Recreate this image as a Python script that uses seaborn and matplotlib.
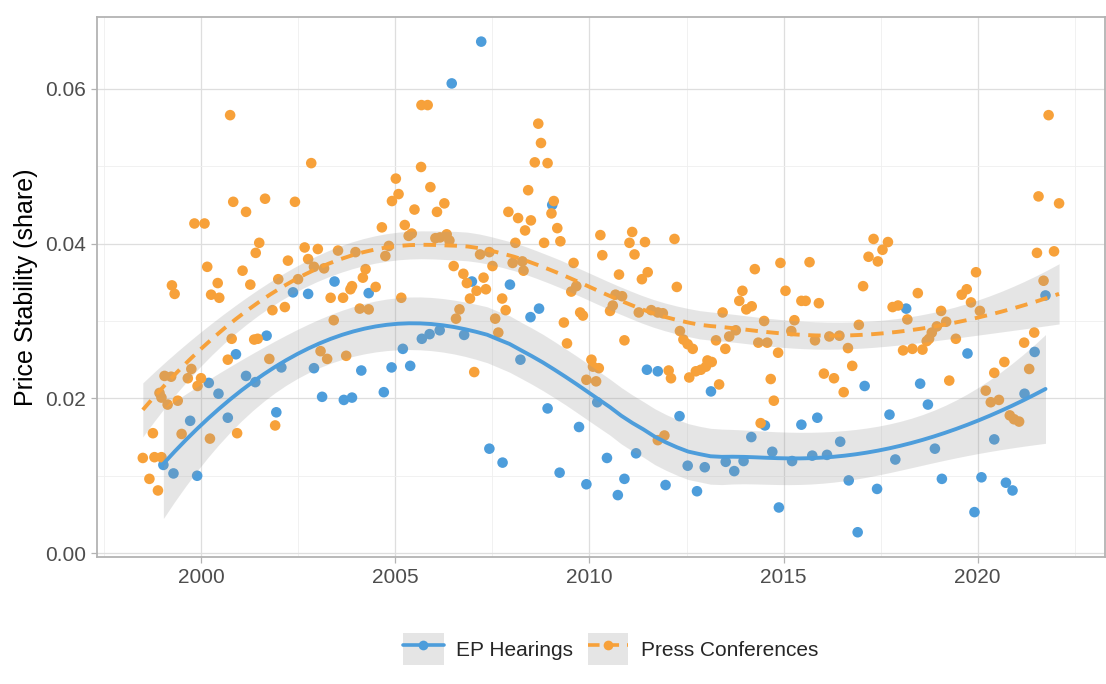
"""Price stability share: EP hearings vs press conferences, loess smooth."""

import matplotlib

matplotlib.use("Agg")
import matplotlib.pyplot as plt
import numpy as np
import pandas as pd
import seaborn as sns
from matplotlib.lines import Line2D
from matplotlib.patches import Patch
from matplotlib.ticker import FormatStrFormatter, MultipleLocator

# EP Hearings (blue)
ep_year = [
    1999.02, 1999.28, 1999.89, 1999.71, 2000.68, 2000.19, 2000.44, 2000.89,
    2001.15, 2001.39, 2001.68, 2001.93, 2002.06, 2002.90, 2003.11, 2003.67,
    2003.88, 2002.36, 2002.75, 2003.43, 2004.12, 2004.70, 2004.90, 2005.19,
    2005.38, 2005.68, 2005.88, 2006.14, 2006.77, 2008.22, 2008.48, 2008.70,
    2008.92, 2007.42, 2007.76, 2009.23, 2009.73, 2009.92, 2010.20, 2004.31,
    2007.21, 2006.45, 2009.04, 2006.97, 2007.95, 2011.48, 2011.76, 2013.13,
    2012.32, 2010.45, 2011.20, 2010.90, 2010.73, 2011.96, 2012.53, 2012.97,
    2012.77, 2013.51, 2013.73, 2013.97, 2014.17, 2014.52, 2014.71, 2014.88,
    2015.22, 2015.46, 2015.87, 2015.74, 2016.12, 2016.46, 2016.68, 2021.75,
    2018.16, 2019.74, 2021.47, 2017.09, 2018.52, 2018.72, 2017.73, 2021.21,
    2018.90, 2017.88, 2020.43, 2017.41, 2019.08, 2020.10, 2020.73, 2020.90,
    2019.92, 2016.91,
]
ep_share = [
    0.0114, 0.0103, 0.0100, 0.0171, 0.0175, 0.0220, 0.0206, 0.0257,
    0.0229, 0.0221, 0.0281, 0.0182, 0.0240, 0.0239, 0.0202, 0.0198,
    0.0201, 0.0337, 0.0335, 0.0351, 0.0236, 0.0208, 0.0240, 0.0264,
    0.0242, 0.0277, 0.0283, 0.0288, 0.0282, 0.0250, 0.0305, 0.0316,
    0.0187, 0.0135, 0.0117, 0.0104, 0.0163, 0.0089, 0.0195, 0.0336,
    0.0661, 0.0607, 0.0450, 0.0351, 0.0347, 0.0237, 0.0235, 0.0209,
    0.0177, 0.0123, 0.0129, 0.0096, 0.0075, 0.0088, 0.0113, 0.0111,
    0.0080, 0.0118, 0.0106, 0.0119, 0.0150, 0.0165, 0.0131, 0.0059,
    0.0119, 0.0166, 0.0175, 0.0126, 0.0127, 0.0144, 0.0094, 0.0333,
    0.0316, 0.0258, 0.0260, 0.0216, 0.0219, 0.0192, 0.0179, 0.0206,
    0.0135, 0.0121, 0.0147, 0.0083, 0.0096, 0.0098, 0.0091, 0.0081,
    0.0053, 0.0027,
]

# Press Conferences (orange)
pc_year = [
    1998.49, 1998.66, 1998.79, 1998.97, 1998.88, 1998.75, 1999.05, 1999.22,
    1998.92, 1998.97, 1999.13, 1999.39, 1999.65, 1999.74, 1999.99, 1999.90,
    1999.49, 2000.22, 2000.92, 2000.68, 2000.78, 2001.36, 2001.45, 2001.75,
    2001.90, 2001.83, 2002.15, 2003.07, 2003.24, 2003.73, 2003.41, 2003.33,
    2003.65, 2000.25, 2000.46, 1999.31, 1999.24, 2000.74, 2002.83, 2000.82,
    2001.64, 2002.41, 2001.15, 1999.82, 2000.08, 2001.49, 2001.40, 2000.15,
    2001.06, 2000.42, 2001.26, 2002.23, 2002.66, 2003.00, 2003.52, 2002.75,
    2002.90, 2003.16, 2001.98, 2002.49, 2003.88, 2005.67, 2005.83, 2008.68,
    2008.75, 2008.59, 2008.92, 2008.42, 2009.08, 2009.02, 2009.17, 2009.25,
    2008.83, 2007.91, 2008.16, 2008.49, 2008.34, 2008.09, 2010.28, 2005.66,
    2005.01, 2005.08, 2004.91, 2005.90, 2005.49, 2006.26, 2006.07, 2004.65,
    2005.24, 2005.34, 2005.42, 2004.83, 2004.74, 2003.97, 2006.03, 2006.15,
    2006.32, 2006.39, 2007.18, 2007.42, 2007.50, 2006.50, 2006.75, 2006.84,
    2007.27, 2007.33, 2007.09, 2008.02, 2008.27, 2008.30, 2009.59, 2009.66,
    2009.53, 2004.23, 2004.16, 2004.49, 2003.84, 2005.15, 2010.33, 2007.03,
    2004.08, 2004.31, 2006.56, 2006.65, 2006.92, 2007.75, 2007.84, 2007.57,
    2007.65, 2009.34, 2009.42, 2009.76, 2009.83, 2010.05, 2010.09, 2010.24,
    2009.92, 2010.17, 2011.10, 2011.03, 2011.43, 2012.19, 2011.16, 2010.76,
    2011.50, 2011.35, 2012.25, 2014.26, 2014.92, 2015.67, 2013.94, 2015.05,
    2010.67, 2010.84, 2010.53, 2010.60, 2011.27, 2011.59, 2011.76, 2011.89,
    2010.90, 2012.04, 2012.10, 2012.33, 2012.42, 2012.53, 2012.66, 2013.04,
    2013.15, 2013.00, 2012.87, 2012.74, 2012.57, 2013.34, 2011.76, 2011.93,
    2013.43, 2013.86, 2014.04, 2014.18, 2013.26, 2013.50, 2013.60, 2013.77,
    2014.35, 2014.58, 2014.50, 2014.86, 2014.67, 2014.75, 2014.41, 2015.46,
    2015.57, 2015.91, 2015.28, 2015.20, 2015.81, 2016.18, 2016.44, 2016.04,
    2016.30, 2016.55, 2016.66, 2016.77, 2021.83, 2021.57, 2022.10, 2021.53,
    2021.97, 2021.70, 2017.32, 2017.69, 2017.55, 2017.19, 2017.43, 2017.05,
    2018.46, 2019.96, 2019.59, 2019.72, 2019.83, 2020.06, 2017.81, 2017.95,
    2016.94, 2018.19, 2019.06, 2019.19, 2018.95, 2018.82, 2018.75, 2018.69,
    2019.44, 2018.08, 2018.32, 2018.58, 2019.27, 2021.20, 2021.46, 2020.69,
    2020.43, 2021.33, 2020.21, 2020.34, 2020.55, 2020.83, 2020.94, 2021.07,
]
pc_share = [
    0.0123, 0.0096, 0.0124, 0.0124, 0.0081, 0.0155, 0.0229, 0.0228,
    0.0207, 0.0201, 0.0192, 0.0197, 0.0226, 0.0238, 0.0226, 0.0216,
    0.0154, 0.0148, 0.0155, 0.0250, 0.0277, 0.0276, 0.0277, 0.0251,
    0.0165, 0.0314, 0.0318, 0.0261, 0.0251, 0.0255, 0.0301, 0.0330,
    0.0330, 0.0334, 0.0330, 0.0335, 0.0346, 0.0566, 0.0504, 0.0454,
    0.0458, 0.0454, 0.0441, 0.0426, 0.0426, 0.0401, 0.0388, 0.0370,
    0.0365, 0.0349, 0.0347, 0.0378, 0.0395, 0.0393, 0.0391, 0.0380,
    0.0370, 0.0368, 0.0354, 0.0354, 0.0345, 0.0579, 0.0579, 0.0555,
    0.0530, 0.0505, 0.0504, 0.0469, 0.0455, 0.0439, 0.0420, 0.0403,
    0.0401, 0.0441, 0.0433, 0.0430, 0.0417, 0.0401, 0.0411, 0.0499,
    0.0484, 0.0464, 0.0455, 0.0473, 0.0444, 0.0452, 0.0441, 0.0421,
    0.0424, 0.0410, 0.0413, 0.0397, 0.0384, 0.0389, 0.0407, 0.0408,
    0.0412, 0.0404, 0.0386, 0.0389, 0.0371, 0.0371, 0.0361, 0.0349,
    0.0356, 0.0341, 0.0339, 0.0375, 0.0377, 0.0365, 0.0375, 0.0345,
    0.0338, 0.0367, 0.0356, 0.0344, 0.0341, 0.0330, 0.0385, 0.0234,
    0.0316, 0.0315, 0.0303, 0.0315, 0.0329, 0.0329, 0.0314, 0.0303,
    0.0285, 0.0298, 0.0271, 0.0311, 0.0307, 0.0250, 0.0241, 0.0239,
    0.0224, 0.0222, 0.0415, 0.0401, 0.0402, 0.0406, 0.0386, 0.0360,
    0.0363, 0.0354, 0.0344, 0.0367, 0.0375, 0.0376, 0.0339, 0.0339,
    0.0334, 0.0332, 0.0313, 0.0320, 0.0311, 0.0314, 0.0311, 0.0310,
    0.0275, 0.0236, 0.0226, 0.0287, 0.0276, 0.0270, 0.0264, 0.0249,
    0.0247, 0.0241, 0.0237, 0.0235, 0.0227, 0.0218, 0.0146, 0.0152,
    0.0311, 0.0326, 0.0315, 0.0319, 0.0275, 0.0264, 0.0280, 0.0288,
    0.0272, 0.0272, 0.0300, 0.0259, 0.0225, 0.0197, 0.0168, 0.0326,
    0.0326, 0.0323, 0.0301, 0.0287, 0.0275, 0.0280, 0.0281, 0.0232,
    0.0226, 0.0208, 0.0265, 0.0242, 0.0566, 0.0461, 0.0452, 0.0388,
    0.0390, 0.0352, 0.0406, 0.0402, 0.0392, 0.0383, 0.0377, 0.0345,
    0.0336, 0.0363, 0.0334, 0.0341, 0.0324, 0.0313, 0.0318, 0.0320,
    0.0295, 0.0302, 0.0313, 0.0299, 0.0293, 0.0285, 0.0277, 0.0274,
    0.0277, 0.0262, 0.0264, 0.0263, 0.0223, 0.0272, 0.0285, 0.0247,
    0.0233, 0.0238, 0.0210, 0.0195, 0.0198, 0.0178, 0.0173, 0.0170,
]

SERIES = ["EP Hearings", "Press Conferences"]
COLORS = {"EP Hearings": "#4d9ddb", "Press Conferences": "#f7a13a"}
STYLES = {"EP Hearings": "-", "Press Conferences": (0, (3.2, 2.2))}
BAND = "#9a9a9a"
BAND_ALPHA = 0.25


def loess(x, y, grid, span=0.75):
    """Local quadratic fit with tricube weights (like R's loess defaults)."""
    x = np.asarray(x, float)
    y = np.asarray(y, float)
    n = len(x)
    q = int(np.floor(n * span))

    def row(x0):
        d = np.abs(x - x0)
        h = np.sort(d)[q - 1]
        w = np.clip(1 - (d / h) ** 3, 0, None) ** 3
        X = np.column_stack([np.ones(n), x - x0, (x - x0) ** 2])
        XtW = X.T * w
        return np.linalg.solve(XtW @ X, XtW)[0]

    L = np.array([row(v) for v in x])
    resid = y - L @ y
    M = np.eye(n) - L
    MM = M.T @ M
    d1 = np.trace(MM)
    d2 = np.trace(MM @ MM)
    sigma = np.sqrt(resid @ resid / d1)
    df = d1 ** 2 / d2
    tq = 1.96 + 2.4 / df
    G = np.array([row(v) for v in grid])
    fit = G @ y
    se = sigma * np.sqrt((G ** 2).sum(axis=1))
    return fit, tq * se


df = pd.concat(
    [
        pd.DataFrame({"year": ep_year, "share": ep_share, "source": SERIES[0]}),
        pd.DataFrame({"year": pc_year, "share": pc_share, "source": SERIES[1]}),
    ],
    ignore_index=True,
)

sns.set_theme(style="white")
plt.rcParams["font.family"] = ["Liberation Sans", "DejaVu Sans"]

fig, ax = plt.subplots(figsize=(11.06, 6.84), dpi=100)
fig.subplots_adjust(left=0.0877, right=0.999, top=0.975, bottom=0.186)

sns.scatterplot(
    data=df, x="year", y="share", hue="source", palette=COLORS,
    s=58, linewidth=0, legend=False, ax=ax, zorder=2,
)

for name in SERIES:
    sub = df[df["source"] == name]
    grid = np.linspace(sub["year"].min(), sub["year"].max(), 80)
    fit, half = loess(sub["year"], sub["share"], grid)
    ax.fill_between(grid, fit - half, fit + half, color=BAND,
                    alpha=BAND_ALPHA, lw=0, zorder=3)
    sns.lineplot(x=grid, y=fit, color=COLORS[name], lw=2.8,
                 linestyle=STYLES[name], ax=ax, zorder=4)

# ggplot-style 5% expansion
xr = df["year"].max() - df["year"].min()
yr = df["share"].max() - df["share"].min()
ax.set_xlim(df["year"].min() - 0.05 * xr, df["year"].max() + 0.05 * xr)
ax.set_ylim(df["share"].min() - 0.05 * yr, df["share"].max() + 0.05 * yr)

ax.xaxis.set_major_locator(MultipleLocator(5))
ax.xaxis.set_minor_locator(MultipleLocator(2.5))
ax.yaxis.set_major_locator(MultipleLocator(0.02))
ax.yaxis.set_minor_locator(MultipleLocator(0.01))
ax.yaxis.set_major_formatter(FormatStrFormatter("%.2f"))
ax.xaxis.set_major_formatter(FormatStrFormatter("%d"))

ax.set_axisbelow(True)
ax.grid(which="major", color="#dedede", lw=0.9)
ax.grid(which="minor", color="#efefef", lw=0.6)
for sp in ax.spines.values():
    sp.set_color("#b3b3b3")
    sp.set_linewidth(1.3)
ax.tick_params(which="major", length=4, width=0.9, color="#b3b3b3",
               labelcolor="#4d4d4d", labelsize=15, pad=4)
ax.tick_params(which="minor", length=0)
ax.tick_params(axis="x", bottom=True)
ax.tick_params(axis="y", left=True)

ax.set_xlabel("")
ax.set_ylabel("Price Stability (share)", fontsize=18, color="black", labelpad=5)

handles = [
    (
        Patch(facecolor=BAND, alpha=BAND_ALPHA, edgecolor="none"),
        Line2D([], [], color=COLORS[name], lw=2.6, linestyle=STYLES[name],
               marker="o", markersize=7, markeredgewidth=0),
    )
    for name in SERIES
]
fig.legend(
    handles, SERIES, loc="center", bbox_to_anchor=(0.552, 0.051), ncol=2,
    frameon=False, fontsize=15, handlelength=1.95, handleheight=1.95,
    handletextpad=0.6, columnspacing=0.7,
)

fig.savefig("out.png", dpi=100)
